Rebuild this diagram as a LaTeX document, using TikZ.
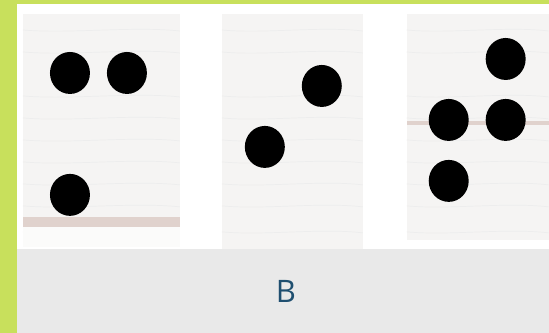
\documentclass[tikz,border=0pt]{standalone}
\usepackage{fontspec}
\setsansfont{Open Sans}
\definecolor{leafgreen}{HTML}{C8E05C}
\definecolor{panelgray}{HTML}{E9E9E9}
\definecolor{labelblue}{HTML}{1F4F70}
\definecolor{woodline}{HTML}{E0D2CD}
\definecolor{woodface}{HTML}{F5F4F3}
\begin{document}
\begin{tikzpicture}[x=1pt,y=-1pt]
        \fill[leafgreen] (0,0) rectangle (549,333);
        \fill[white] (17,4) rectangle (549,249);
        \fill[panelgray] (17,249) rectangle (549,333);

        % the three wooden boards
        \foreach \x/\w/\h in {23/157/247, 222/141/249, 407/142/240}
            \fill[woodface] (\x,14) rectangle (\x+\w,\h);
        \foreach \x/\w/\h in {23/157/247, 222/141/249, 407/142/240}
            \foreach \y in {30, 52, 96, 118, 140, 162, 184, 206, 232}
                \draw[gray!14, line width=0.7] (\x,\y) .. controls (\x+0.3*\w,\y+4) and (\x+0.7*\w,\y-4) .. (\x+\w,\y+1);
        \fill[woodline] (23,217) rectangle (180,227);
        \fill[white!60!woodface] (23,227) rectangle (180,247);
        \fill[woodline] (407,121) rectangle (549,125);

        % dots
        \foreach \x/\y in {70/73, 127/73, 70/195, 322/86, 265/147, 506/59, 449/120, 506/120, 449/181}
            \fill[black] (\x,\y) ellipse (20pt and 21pt);

        \node[font=\sffamily\fontsize{31}{31}\selectfont, text=labelblue] (answer) at (286,292) {B};
\end{tikzpicture}
\end{document}
